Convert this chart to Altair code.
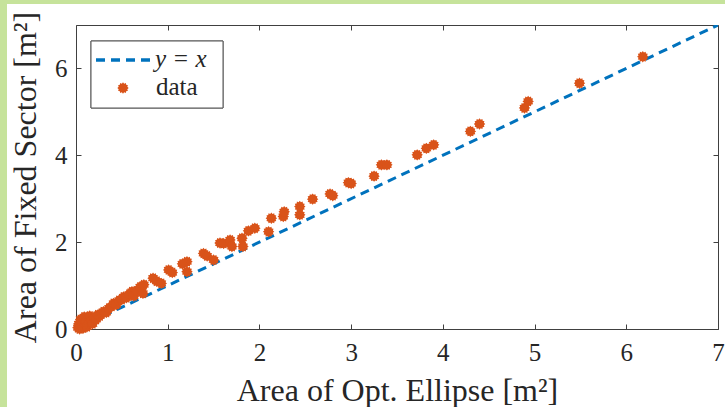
import math
import altair as alt
import pandas as pd

# ---- data ----
opt_ellipse = [0.02, 0.03, 0.04, 0.05, 0.06, 0.07, 0.08, 0.09, 0.10, 0.11,
               0.12, 0.14, 0.15, 0.17, 0.18, 0.20, 0.22, 0.24, 0.26, 0.28,
               0.30, 0.33, 0.36, 0.39, 0.41, 0.44, 0.47, 0.50, 0.52, 0.55,
               0.58, 0.61, 0.63, 0.66, 0.70, 0.73, 0.74, 0.84, 0.88, 0.93,
               1.01, 1.05, 1.21, 1.16, 1.21, 1.39, 1.43, 1.50, 1.57, 1.61,
               1.68, 1.70, 1.81, 1.82, 1.88, 1.95, 2.10, 2.13, 2.26, 2.27,
               2.44, 2.44, 2.58, 2.77, 2.80, 2.97, 3.00, 3.25, 3.33, 3.39,
               3.72, 3.82, 3.90, 4.30, 4.40, 4.89, 4.93, 5.49, 6.18]
fixed_sector = [0.03, 0.12, 0.00, 0.22, 0.08, 0.15, 0.02, 0.28, 0.10, 0.18,
                0.05, 0.13, 0.30, 0.20, 0.12, 0.27, 0.22, 0.33, 0.30, 0.36,
                0.40, 0.38, 0.48, 0.52, 0.59, 0.56, 0.66, 0.68, 0.74, 0.72,
                0.80, 0.86, 0.76, 0.88, 0.97, 0.82, 1.02, 1.17, 1.10, 1.05,
                1.36, 1.30, 1.55, 1.50, 1.32, 1.74, 1.68, 1.59, 1.98, 1.97,
                2.05, 1.90, 2.09, 1.90, 2.26, 2.32, 2.24, 2.55, 2.59, 2.70,
                2.82, 2.63, 2.99, 3.11, 3.07, 3.37, 3.35, 3.52, 3.78, 3.78,
                4.01, 4.16, 4.24, 4.55, 4.72, 5.09, 5.24, 5.66, 6.27]
ref_x = [0, 7]
ref_y = [0, 7]
x_ticks = [0, 1, 2, 3, 4, 5, 6, 7]
y_ticks = [0, 2, 4, 6]
legend_labels = ["y = x", "data"]

pts = pd.DataFrame({"x": opt_ellipse, "y": fixed_sector})
ref = pd.DataFrame({"x": ref_x, "y": ref_y})

ORANGE = "#D95319"
BLUE = "#0072BD"
GREEN = "#c6e39b"
AXC = "#404040"
TXT = "#262626"
FONT = "'Liberation Serif', 'Times New Roman', 'DejaVu Serif', serif"

# asterisk-like filled marker
n = 12
pp = []
for i in range(2 * n):
    r = 1.0 if i % 2 == 0 else 0.78
    a = math.pi * i / n
    pp.append(f"{r*math.cos(a):.3f},{r*math.sin(a):.3f}")
STAR = "M" + "L".join(pp) + "Z"

W, H = 642, 304
xs = alt.Scale(domain=[0, 7], nice=False, zero=False)
ys = alt.Scale(domain=[0, 7], nice=False, zero=False)

def xaxis(show):
    return alt.Axis(values=x_ticks, format="d", offset=-5, tickSize=5, domain=False,
                    grid=False, labels=show, labelFlush=False, tickColor=AXC,
                    labelColor=TXT, labelFont=FONT, labelFontSize=25, labelPadding=11,
                    title="Area of Opt. Ellipse [m²]" if show else None,
                    titleFont=FONT, titleFontSize=32, titleFontWeight="normal",
                    titleColor=TXT, titlePadding=10)

def yaxis(show):
    return alt.Axis(values=y_ticks, format="d", offset=-5, tickSize=5, domain=False,
                    grid=False, labels=show, labelFlush=False, tickColor=AXC,
                    labelColor=TXT, labelFont=FONT, labelFontSize=25, labelPadding=9,
                    title="Area of Fixed Sector [m²]" if show else None,
                    titleFont=FONT, titleFontSize=32, titleFontWeight="normal",
                    titleColor=TXT, titlePadding=12)

line = alt.Chart(ref).mark_line(color=BLUE, strokeWidth=3, strokeDash=[9, 6], clip=True).encode(
    x=alt.X("x:Q", scale=xs, axis=xaxis(True)),
    y=alt.Y("y:Q", scale=ys, axis=yaxis(True)),
)
mirror = alt.Chart(ref).mark_point(opacity=0).encode(
    x=alt.X("x:Q", scale=xs, axis=xaxis(False)),
    y=alt.Y("y:Q", scale=ys, axis=yaxis(False)),
)
points = alt.Chart(pts).mark_point(shape=STAR, filled=True, color=ORANGE, opacity=1,
                                   size=130).encode(
    x=alt.X("x:Q", scale=xs, axis=None),
    y=alt.Y("y:Q", scale=ys, axis=None),
)

# legend (decoration)
leg = pd.DataFrame({"label": legend_labels})
box = alt.Chart(leg).mark_rect(fill="white", stroke="#555555", strokeWidth=1).encode(
    x=alt.value(15), x2=alt.value(147), y=alt.value(16), y2=alt.value(83))
leg_line = alt.Chart(leg).mark_rule(color=BLUE, strokeWidth=3, strokeDash=[9, 6]).encode(
    x=alt.value(20), x2=alt.value(76), y=alt.value(35))
leg_text1 = alt.Chart(pd.DataFrame({"t": [legend_labels[0]]})).mark_text(
    font=FONT, fontSize=25, fontStyle="italic", align="left", baseline="middle",
    color=TXT).encode(x=alt.value(79), y=alt.value(34), text="t:N")
leg_pt = alt.Chart(pd.DataFrame({"t": [legend_labels[1]]})).mark_point(
    shape=STAR, filled=True, color=ORANGE, opacity=1, size=130).encode(
    x=alt.value(47), y=alt.value(63))
leg_text2 = alt.Chart(pd.DataFrame({"t": [legend_labels[1]]})).mark_text(
    font=FONT, fontSize=25, align="left", baseline="middle",
    color=TXT).encode(x=alt.value(80), y=alt.value(62), text="t:N")

# green page border (decoration)
g_left = alt.Chart(leg).mark_rect(fill=GREEN).encode(
    x=alt.value(-76), x2=alt.value(-69), y=alt.value(-25), y2=alt.value(382))
g_top = alt.Chart(leg).mark_rect(fill=GREEN).encode(
    x=alt.value(-76), x2=alt.value(649), y=alt.value(-25), y2=alt.value(-21))

chart = alt.layer(line, mirror, points, box, leg_line, leg_text1, leg_pt, leg_text2,
                  g_left, g_top).resolve_axis(x="independent", y="independent").properties(
    width=W, height=H,
    autosize=alt.AutoSizeParams(type="none"),
    padding={"left": 76, "top": 25, "right": 7, "bottom": 78},
    background="white",
).configure_view(stroke=AXC, strokeWidth=1)

chart.save("out.html", embed_options={"renderer": "svg", "actions": False})
